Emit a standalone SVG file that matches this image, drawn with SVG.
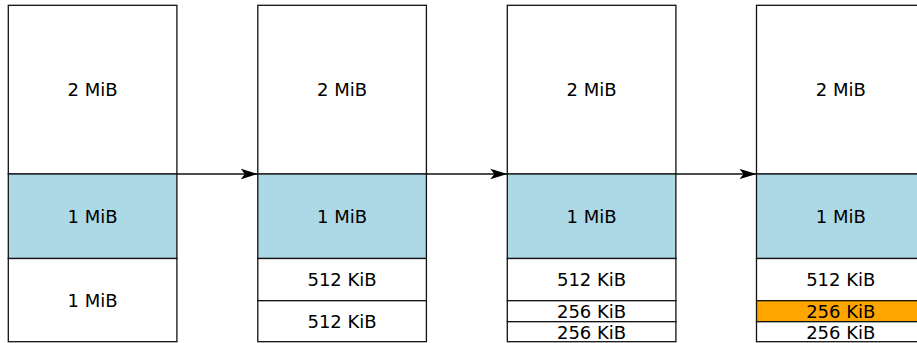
<svg xmlns="http://www.w3.org/2000/svg" width="917" height="343" viewBox="0 0 917 343">
<style>
.b{fill:#fff;stroke:#111;stroke-width:1.3}
.m{fill:#add8e6;stroke:#111;stroke-width:1.3}
.o{fill:#ffa500;stroke:#111;stroke-width:1.3}
text{font-family:"DejaVu Sans",sans-serif;font-size:18px;text-anchor:middle;fill:#000}
.c{stroke:#111;stroke-width:1.3;fill:none}
</style>
<defs>
<marker id="ah" markerWidth="20" markerHeight="12" refX="17" refY="6" orient="auto" markerUnits="userSpaceOnUse">
<path d="M0,0.8 L17,6 L0,11.2 L4,6 Z" fill="#000"/>
</marker>
</defs>
<g id="col1">
<rect class="b" x="8.3" y="5.3" width="168.6" height="168.7"/>
<text x="92.6" y="96">2 MiB</text>
<rect class="m" x="8.3" y="174" width="168.6" height="84.5"/>
<text x="92.6" y="222.5">1 MiB</text>
<rect class="b" x="8.3" y="258.5" width="168.6" height="83.2"/>
<text x="92.6" y="306.5">1 MiB</text>
</g>
<g id="col2">
<rect class="b" x="257.8" y="5.3" width="168.6" height="168.7"/>
<text x="342.1" y="96">2 MiB</text>
<rect class="m" x="257.8" y="174" width="168.6" height="84.5"/>
<text x="342.1" y="222.5">1 MiB</text>
<rect class="b" x="257.8" y="258.5" width="168.6" height="42.2"/>
<text x="342.1" y="286">512 KiB</text>
<rect class="b" x="257.8" y="300.7" width="168.6" height="41"/>
<text x="342.1" y="328">512 KiB</text>
</g>
<g id="col3">
<rect class="b" x="507.3" y="5.3" width="168.6" height="168.7"/>
<text x="591.6" y="96">2 MiB</text>
<rect class="m" x="507.3" y="174" width="168.6" height="84.5"/>
<text x="591.6" y="222.5">1 MiB</text>
<rect class="b" x="507.3" y="258.5" width="168.6" height="42.2"/>
<text x="591.6" y="286">512 KiB</text>
<rect class="b" x="507.3" y="300.7" width="168.6" height="21"/>
<text x="591.6" y="317.5">256 KiB</text>
<rect class="b" x="507.3" y="321.7" width="168.6" height="20"/>
<text x="591.6" y="338.5">256 KiB</text>
</g>
<g id="col4">
<rect class="b" x="756.5" y="5.3" width="168.6" height="168.7"/>
<text x="840.8" y="96">2 MiB</text>
<rect class="m" x="756.5" y="174" width="168.6" height="84.5"/>
<text x="840.8" y="222.5">1 MiB</text>
<rect class="b" x="756.5" y="258.5" width="168.6" height="42.2"/>
<text x="840.8" y="286">512 KiB</text>
<rect class="o" x="756.5" y="300.7" width="168.6" height="21"/>
<text x="840.8" y="317.5">256 KiB</text>
<rect class="b" x="756.5" y="321.7" width="168.6" height="20"/>
<text x="840.8" y="338.5">256 KiB</text>
</g>
<g id="connectors">
<line class="c" x1="176.9" y1="174" x2="257.8" y2="174" marker-end="url(#ah)"/>
<line class="c" x1="426.4" y1="174" x2="507.3" y2="174" marker-end="url(#ah)"/>
<line class="c" x1="675.9" y1="174" x2="756.5" y2="174" marker-end="url(#ah)"/>
</g>
</svg>
